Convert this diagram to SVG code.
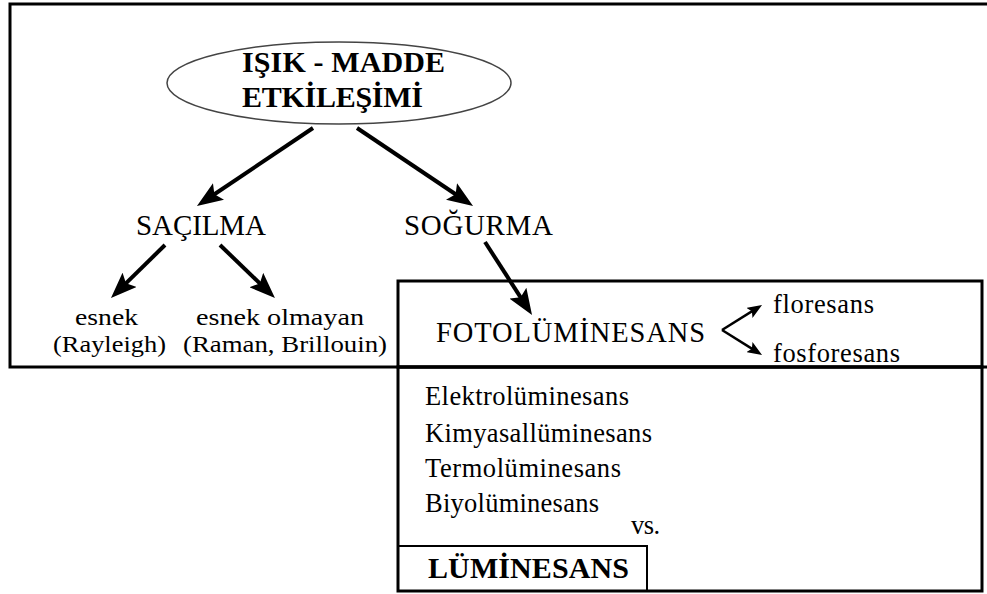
<svg xmlns="http://www.w3.org/2000/svg" width="987" height="594" viewBox="0 0 987 594">
<style>
text{font-family:"Liberation Serif","DejaVu Serif",serif;fill:#000}
.b{font-weight:bold;font-size:30px}
.m{font-size:29px}
.s{font-size:26.5px}
.e{font-size:24px}
.f{font-size:28.5px}
.box{fill:none;stroke:#000;stroke-width:3}
.arr{stroke:#000;stroke-width:4;fill:none;marker-end:url(#ah)}
.sarr{stroke:#000;stroke-width:2.5;fill:none;marker-end:url(#sh)}
</style>
<defs>
<marker id="ah" markerUnits="userSpaceOnUse" markerWidth="26" markerHeight="20" viewBox="0 0 26 20" refX="18" refY="10" orient="auto"><path d="M0,0 L26,10 L0,20 L5,10 z" fill="#000"/></marker>
<marker id="sh" markerUnits="userSpaceOnUse" markerWidth="15" markerHeight="12" viewBox="0 0 15 12" refX="10" refY="6" orient="auto"><path d="M0,0 L15,6 L0,12 L3,6 z" fill="#000"/></marker>
</defs>
<rect width="987" height="594" fill="#fff"/>
<g id="frame"><rect class="box" x="10" y="4" width="990" height="363"/></g>
<g id="isik-madde">
<ellipse cx="339" cy="83" rx="172" ry="41" fill="#fff" stroke="#444" stroke-width="1.5"/>
<text class="b" x="242" y="72" textLength="203" lengthAdjust="spacing">IŞIK - MADDE</text>
<text class="b" x="242" y="107" textLength="181" lengthAdjust="spacing">ETKİLEŞİMİ</text>
</g>
<g id="sacilma"><text class="m" x="136" y="235" textLength="130" lengthAdjust="spacing">SAÇILMA</text></g>
<g id="sogurma"><text class="m" x="404" y="235" textLength="149" lengthAdjust="spacing">SOĞURMA</text></g>
<g id="esnek"><text class="e" x="75" y="325" textLength="63" lengthAdjust="spacingAndGlyphs">esnek</text><text class="e" x="53" y="352" textLength="113" lengthAdjust="spacingAndGlyphs">(Rayleigh)</text></g>
<g id="esnek-olmayan"><text class="e" x="196" y="325" textLength="168" lengthAdjust="spacingAndGlyphs">esnek olmayan</text><text class="e" x="183" y="352" textLength="204" lengthAdjust="spacingAndGlyphs">(Raman, Brillouin)</text></g>
<g id="fotoluminesans">
<rect class="box" x="398" y="281" width="584" height="86"/>
<text class="f" x="436" y="342" textLength="269" lengthAdjust="spacing">FOTOLÜMİNESANS</text>
</g>
<g id="floresans"><text class="s" x="773" y="313" textLength="101" lengthAdjust="spacing">floresans</text></g>
<g id="fosforesans"><text class="s" x="773" y="362" textLength="127" lengthAdjust="spacing">fosforesans</text></g>
<g id="luminesans">
<rect class="box" x="398" y="367" width="584" height="224"/>
<text class="s" x="425" y="405" textLength="204" lengthAdjust="spacing">Elektrolüminesans</text>
<text class="s" x="425" y="442" textLength="227" lengthAdjust="spacing">Kimyasallüminesans</text>
<text class="s" x="425" y="477" textLength="196" lengthAdjust="spacing">Termolüminesans</text>
<text class="s" x="425" y="512" textLength="174" lengthAdjust="spacing">Biyolüminesans</text>
<text class="s" x="631" y="534" textLength="29" lengthAdjust="spacing">vs.</text>
<rect x="398" y="546" width="249" height="45" fill="none" stroke="#000" stroke-width="2"/>
<text class="b" x="428" y="578" textLength="201" lengthAdjust="spacing">LÜMİNESANS</text>
</g>
<g id="connectors">
<line class="arr" x1="313" y1="128" x2="203.6" y2="201.5"/>
<line class="arr" x1="357" y1="128" x2="466.4" y2="201.5"/>
<line class="arr" x1="165" y1="245" x2="116.7" y2="292.4"/>
<line class="arr" x1="220" y1="245" x2="269.2" y2="292.5"/>
<line class="arr" x1="485" y1="242" x2="527.7" y2="308.3"/>
<line class="sarr" x1="722" y1="330" x2="757.8" y2="307.6"/>
<line class="sarr" x1="722" y1="330" x2="757.8" y2="352.4"/>
</g>
</svg>
